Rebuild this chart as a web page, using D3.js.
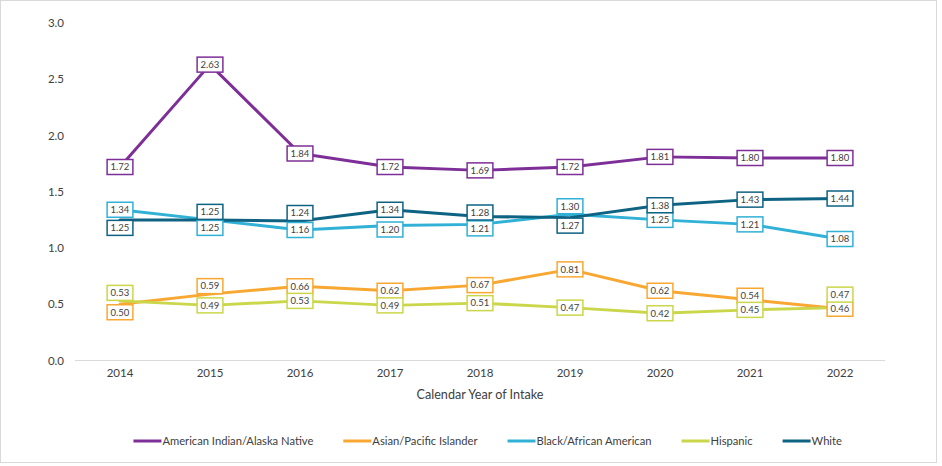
<!DOCTYPE html>
<html>
<head>
<meta charset="utf-8">
<script src="https://cdn.jsdelivr.net/npm/d3@7"></script>
<style>
  html, body { margin: 0; padding: 0; background: #fff; }
  svg { display: block; font-family: Lato, "Open Sans", sans-serif; }
</style>
</head>
<body>
<svg id="chart" width="942" height="466"></svg>
<script>
// ---------------- data ----------------
const years = ["2014", "2015", "2016", "2017", "2018", "2019", "2020", "2021", "2022"];
const seriesNames = ["American Indian/Alaska Native", "Asian/Pacific Islander", "Black/African American", "Hispanic", "White"];
const aianValues     = [1.72, 2.63, 1.84, 1.72, 1.69, 1.72, 1.81, 1.80, 1.80];
const asianValues    = [0.50, 0.59, 0.66, 0.62, 0.67, 0.81, 0.62, 0.54, 0.46];
const blackValues    = [1.34, 1.25, 1.16, 1.20, 1.21, 1.30, 1.25, 1.21, 1.08];
const hispanicValues = [0.53, 0.49, 0.53, 0.49, 0.51, 0.47, 0.42, 0.45, 0.47];
const whiteValues    = [1.25, 1.25, 1.24, 1.34, 1.28, 1.27, 1.38, 1.43, 1.44];
const yTicks = [0.0, 0.5, 1.0, 1.5, 2.0, 2.5, 3.0];
const xAxisTitle = "Calendar Year of Intake";

// label placement codes: c = centered, a/b = above/below, u/d = slightly up/down, A = further above
const aianPlace     = ["c","c","c","c","c","c","c","c","c"];
const asianPlace    = ["b","a","c","c","c","c","c","u","c"];
const blackPlace    = ["c","b","c","d","d","a","c","c","c"];
const hispanicPlace = ["a","c","c","c","c","c","c","c","A"];
const whitePlace    = ["b","a","a","c","u","b","c","c","c"];

const colors = ["#7E2F97", "#F8A832", "#31B1D5", "#CBD74A", "#0E6282"];

const series = [
  { name: seriesNames[0], values: aianValues,     place: aianPlace,     color: colors[0] },
  { name: seriesNames[1], values: asianValues,    place: asianPlace,    color: colors[1] },
  { name: seriesNames[2], values: blackValues,    place: blackPlace,    color: colors[2] },
  { name: seriesNames[3], values: hispanicValues, place: hispanicPlace, color: colors[3] },
  { name: seriesNames[4], values: whiteValues,    place: whitePlace,    color: colors[4] }
];

// ---------------- layout ----------------
const svg = d3.select("#chart");

svg.append("rect")
  .attr("x", 0.5).attr("y", 0.5)
  .attr("width", 936).attr("height", 462)
  .attr("fill", "#fff").attr("stroke", "#D9D9D9").attr("stroke-width", 1);

const x = d3.scaleBand().domain(years).range([75, 885]).paddingInner(0).paddingOuter(0);
const y = d3.scaleLinear().domain([0, 3]).range([360.5, 23]);
const cx = d => x(d) + x.bandwidth() / 2;

// baseline
svg.append("line")
  .attr("x1", 75).attr("x2", 885)
  .attr("y1", y(0)).attr("y2", y(0))
  .attr("stroke", "#D9D9D9").attr("stroke-width", 1);

// y axis (labels only)
const yAxis = d3.axisLeft(y).tickValues(yTicks).tickFormat(d3.format(".1f")).tickSize(0).tickPadding(0);
const gy = svg.append("g").attr("transform", "translate(64,0)").call(yAxis);
gy.select(".domain").remove();
gy.selectAll("text").attr("font-size", 11.5).attr("fill", "#404040")
  .attr("font-family", "Lato, sans-serif");

// x axis
const xAxis = d3.axisBottom(x).tickSize(0).tickPadding(0);
const gx = svg.append("g").attr("transform", "translate(0,368.5)").call(xAxis);
gx.select(".domain").remove();
gx.selectAll("text").attr("font-size", 11.5).attr("fill", "#404040")
  .attr("font-family", "Lato, sans-serif").attr("dy", "0.75em");

svg.append("text")
  .attr("x", 480).attr("y", 395).attr("dy", "0.35em")
  .attr("text-anchor", "middle")
  .attr("font-size", 12.6).attr("fill", "#404040")
  .text(xAxisTitle);

// lines
const line = d3.line().x((d, i) => cx(years[i])).y(d => y(d));
series.forEach(s => {
  svg.append("path")
    .datum(s.values)
    .attr("d", line)
    .attr("fill", "none")
    .attr("stroke", s.color)
    .attr("stroke-width", 3)
    .attr("stroke-linejoin", "round")
    .attr("stroke-linecap", "round");
});

// data labels
const shift = { c: 0, a: -8, b: 8, u: -4, d: 4, A: -13 };
const boxH = 15;
series.forEach(s => {
  const g = svg.append("g");
  s.values.forEach((v, i) => {
    const px = cx(years[i]);
    const py = y(v) + shift[s.place[i]];
    const lg = g.append("g").attr("transform", `translate(${px},${py})`);
    const rect = lg.append("rect");
    const t = lg.append("text")
      .attr("text-anchor", "middle").attr("dy", "0.35em")
      .attr("font-size", 9.5).attr("fill", "#404040")
      .text(v.toFixed(2));
    const tw = t.node().getComputedTextLength();
    const bw = Math.max(24, tw + 7);
    rect.attr("x", -bw / 2).attr("y", -boxH / 2)
      .attr("width", bw).attr("height", boxH)
      .attr("fill", "#fff").attr("stroke", s.color).attr("stroke-width", 1.5);
  });
});

// legend
const legend = svg.append("g");
let cursor = 0;
series.forEach((s) => {
  const gi = legend.append("g");
  gi.append("line").attr("x1", 0).attr("x2", 28).attr("y1", 0).attr("y2", 0)
    .attr("stroke", s.color).attr("stroke-width", 3);
  const t = gi.append("text").attr("x", 29).attr("dy", "0.35em")
    .attr("font-size", 11.2).attr("fill", "#404040").text(s.name);
  const w = 29 + t.node().getComputedTextLength();
  gi.attr("transform", `translate(${cursor},0)`);
  cursor += w + 30;
});
const total = cursor - 30;
legend.attr("transform", `translate(${487.7 - total / 2},441)`);
</script>
</body>
</html>
